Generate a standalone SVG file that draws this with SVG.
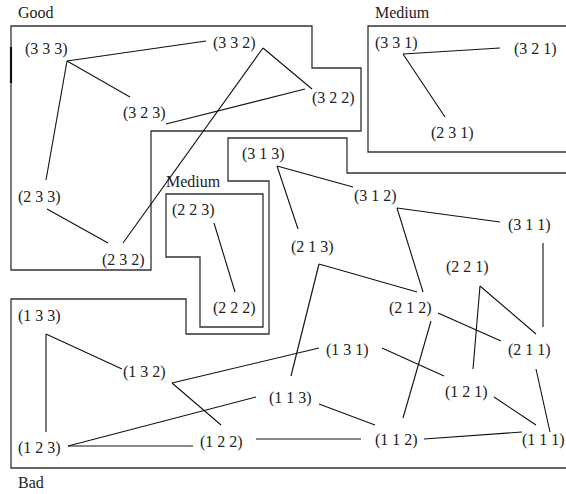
<svg xmlns="http://www.w3.org/2000/svg" width="566" height="494" viewBox="0 0 566 494">
<style>
text{font-family:"Liberation Serif","Times New Roman",serif;font-size:16px;fill:#222}
.b{fill:none;stroke:#333;stroke-width:1.3}
.e line,.e polyline{stroke:#111;stroke-width:1.1;fill:none}
</style>
<rect width="566" height="494" fill="#fff"/>
<g id="regions">
<polygon class="b" points="11,26 312,26 312,68 361,68 361,131 151,131 151,270 11,270"/>
<line x1="11" y1="47" x2="11" y2="83" stroke="#111" stroke-width="2.2"/>
<polyline class="b" points="567,26 368,26 368,152 567,152"/>
<polyline class="b" points="567,173 347,173 347,138 228,138 228,181 269,181 269,334 186,334 186,299 11,299 11,468 567,468"/>
<polygon class="b" points="166,194 263,194 263,327 200,327 200,257 166,257"/>
<text x="18" y="18">Good</text>
<text x="375" y="18">Medium</text>
<text x="166" y="187">Medium</text>
<text x="18" y="488">Bad</text>
</g>
<g id="connectors" class="e">
<line x1="67" y1="61" x2="206" y2="41"/>
<line x1="67" y1="61" x2="130" y2="97"/>
<line x1="67" y1="61" x2="46" y2="180"/>
<line x1="47" y1="209" x2="108" y2="243"/>
<line x1="123" y1="243" x2="263" y2="48"/>
<line x1="263" y1="48" x2="312" y2="89"/>
<line x1="166" y1="124" x2="305" y2="89"/>
<line x1="403" y1="54" x2="500" y2="48"/>
<line x1="403" y1="54" x2="445" y2="117"/>
<line x1="277" y1="166" x2="353" y2="187"/>
<line x1="277" y1="166" x2="298" y2="229"/>
<line x1="397" y1="208" x2="500" y2="222"/>
<line x1="397" y1="208" x2="423" y2="292"/>
<line x1="543" y1="243" x2="543" y2="327"/>
<line x1="214" y1="223" x2="235" y2="292"/>
<line x1="319" y1="264" x2="417" y2="292"/>
<line x1="319" y1="264" x2="291" y2="376"/>
<line x1="438" y1="313" x2="501" y2="341"/>
<line x1="431" y1="321" x2="403" y2="418"/>
<line x1="480" y1="286" x2="473" y2="369"/>
<line x1="480" y1="286" x2="536" y2="334"/>
<line x1="382" y1="348" x2="444" y2="376"/>
<line x1="172" y1="383" x2="319" y2="348"/>
<line x1="172" y1="383" x2="221" y2="425"/>
<line x1="46" y1="334" x2="122" y2="369"/>
<line x1="46" y1="334" x2="46" y2="432"/>
<line x1="68" y1="446" x2="256" y2="397"/>
<line x1="68" y1="446" x2="193" y2="446"/>
<line x1="256" y1="439" x2="361" y2="439"/>
<line x1="319" y1="404" x2="375" y2="425"/>
<line x1="424" y1="439" x2="522" y2="432"/>
<line x1="494" y1="397" x2="536" y2="425"/>
<line x1="536" y1="369" x2="550" y2="432"/>
</g>
<g id="n333"><text x="25" y="54">(3 3 3)</text></g>
<g id="n332"><text x="213" y="48">(3 3 2)</text></g>
<g id="n323"><text x="123" y="118">(3 2 3)</text></g>
<g id="n322"><text x="312" y="103">(3 2 2)</text></g>
<g id="n233"><text x="18" y="202">(2 3 3)</text></g>
<g id="n232"><text x="102" y="265">(2 3 2)</text></g>
<g id="n331"><text x="375" y="48">(3 3 1)</text></g>
<g id="n321"><text x="514" y="54">(3 2 1)</text></g>
<g id="n231"><text x="431" y="138">(2 3 1)</text></g>
<g id="n313"><text x="242" y="159">(3 1 3)</text></g>
<g id="n312"><text x="354" y="201">(3 1 2)</text></g>
<g id="n311"><text x="508" y="230">(3 1 1)</text></g>
<g id="n223"><text x="172" y="215">(2 2 3)</text></g>
<g id="n222"><text x="213" y="313">(2 2 2)</text></g>
<g id="n213"><text x="291" y="252">(2 1 3)</text></g>
<g id="n221"><text x="446" y="272">(2 2 1)</text></g>
<g id="n212"><text x="389" y="313">(2 1 2)</text></g>
<g id="n211"><text x="508" y="355">(2 1 1)</text></g>
<g id="n133"><text x="18" y="321">(1 3 3)</text></g>
<g id="n132"><text x="123" y="377">(1 3 2)</text></g>
<g id="n131"><text x="326" y="355">(1 3 1)</text></g>
<g id="n121"><text x="445" y="397">(1 2 1)</text></g>
<g id="n113"><text x="269" y="403">(1 1 3)</text></g>
<g id="n123"><text x="18" y="453">(1 2 3)</text></g>
<g id="n122"><text x="200" y="447">(1 2 2)</text></g>
<g id="n112"><text x="375" y="445">(1 1 2)</text></g>
<g id="n111"><text x="522" y="445">(1 1 1)</text></g>
</svg>
